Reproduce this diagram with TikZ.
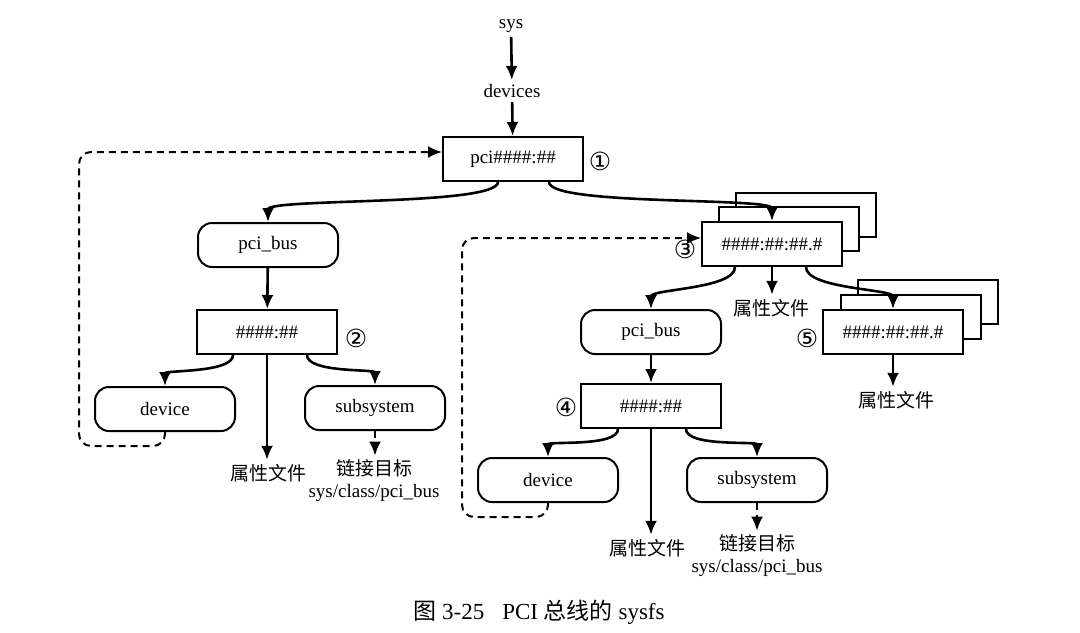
\documentclass[tikz,border=0pt]{standalone}
\usepackage{fontspec}
\setmainfont{Liberation Serif}
\newfontfamily\cjk{Noto Sans CJK SC}
\newfontfamily\circnum{DejaVu Sans}
\usetikzlibrary{arrows.meta}

\begin{document}
\begin{tikzpicture}[x=0.5pt,y=-0.5pt,font=\fontsize{9.5}{11}\selectfont,
    dirbox/.style={draw,line width=1pt,fill=white,minimum width=70pt,minimum height=22pt,inner sep=0pt},
    busbox/.style={dirbox,rounded corners=7pt},
    txt/.style={inner sep=2pt,align=center},
    num/.style={inner sep=0pt,font=\circnum\fontsize{12.5}{13}\selectfont},
    arr/.style={line width=1.3pt,-{Latex[length=7pt,width=6pt]}},
    lnk/.style={arr,line width=1pt,dash pattern=on 3.5pt off 2.5pt}]
    \useasboundingbox (0,0) rectangle (1080,632);

    % top of the tree
    \node[txt] (sys) at (511,26) {sys};
    \node[txt] (devices) at (512,91) {devices};
    \node[dirbox] (pci) at (513,159) {pci\#\#\#\#:\#\#};
    \node[num] (n1) at (600,161) {①};

    % left branch: pci bus
    \node[busbox] (busL) at (268,245) {pci\_bus};
    \node[dirbox] (domL) at (267,332) {\#\#\#\#:\#\#};
    \node[num] (n2) at (356,338) {②};
    \node[busbox] (devL) at (165,409) {device};
    \node[busbox] (subL) at (375,408) {subsystem};
    \node[txt,font=\cjk\fontsize{9.5}{11}\selectfont] (attrL) at (268,473) {属性文件};
    \node[txt] (linkL) at (374,481) {{\cjk 链接目标}\\sys/class/pci\_bus};

    % right branch: device slots (stacked)
    \node[dirbox] (slotC) at (806,215) {};
    \node[dirbox] (slotB) at (789,229) {};
    \node[dirbox] (slot) at (772,244) {\#\#\#\#:\#\#:\#\#.\#};
    \node[num] (n3) at (685,249) {③};
    \node[txt,font=\cjk\fontsize{9.5}{11}\selectfont] (attr3) at (771,308) {属性文件};

    \node[dirbox] (subslotC) at (928,302) {};
    \node[dirbox] (subslotB) at (911,317) {};
    \node[dirbox] (subslot) at (893,332) {\#\#\#\#:\#\#:\#\#.\#};
    \node[num] (n5) at (807,338) {⑤};
    \node[txt,font=\cjk\fontsize{9.5}{11}\selectfont] (attr5) at (896,400) {属性文件};

    \node[busbox] (busR) at (651,332) {pci\_bus};
    \node[dirbox] (domR) at (651,406) {\#\#\#\#:\#\#};
    \node[num] (n4) at (566,407) {④};
    \node[busbox] (devR) at (548,480) {device};
    \node[busbox] (subR) at (757,480) {subsystem};
    \node[txt,font=\cjk\fontsize{9.5}{11}\selectfont] (attrR) at (647,548) {属性文件};
    \node[txt] (linkR) at (757,556) {{\cjk 链接目标}\\sys/class/pci\_bus};

    % caption
    \node[txt,font=\fontsize{11.5}{13}\selectfont] (cap) at (539,612) {{\cjk 图}~3-25\hspace{9pt}PCI~{\cjk 总线的}~sysfs};

    % solid arrows
    \draw[arr] (sys) -- (devices);
    \draw[arr] (devices) -- (pci);
    \draw[arr] ([xshift=-7.5pt]pci.south) .. controls +(0,24) and +(0,-24) .. (busL.north);
    \draw[arr] ([xshift=18pt]pci.south) .. controls +(0,24) and +(0,-24) .. (slot.north);
    \draw[arr] (busL) -- (domL);
    \draw[arr] ([xshift=-17pt]domL.south) .. controls +(0,18) and +(0,-16) .. (devL.north);
    \draw[arr] ([xshift=20pt]domL.south) .. controls +(0,18) and +(0,-16) .. (subL.north);
    \draw[arr] (domL.south) -- (domL.south |- attrL.north);
    \draw[arr] ([xshift=-18.5pt]slot.south) .. controls +(0,22) and +(0,-20) .. (busR.north);
    \draw[arr] (slot.south) -- (slot.south |- attr3.north);
    \draw[arr] ([xshift=17pt]slot.south) .. controls +(0,22) and +(0,-20) .. (subslot.north);
    \draw[arr] (subslot.south) -- (subslot.south |- attr5.north);
    \draw[arr] (busR) -- (domR);
    \draw[arr] ([xshift=-16.5pt]domR.south) .. controls +(0,18) and +(0,-16) .. (devR.north);
    \draw[arr] ([xshift=17.5pt]domR.south) .. controls +(0,18) and +(0,-16) .. (subR.north);
    \draw[arr] (domR.south) -- (domR.south |- attrR.north);

    % symbolic links (dashed)
    \coordinate (lpL) at (79,446);
    \coordinate (ltL) at (79,152);
    \draw[lnk,rounded corners=6pt] (devL.south) |- (lpL) -- (ltL) -- (ltL -| pci.west);
    \draw[lnk] (subL.south) -- (subL.south |- linkL.north);
    \coordinate (lpR) at (462,517);
    \coordinate (ltR) at (462,238);
    \draw[lnk,rounded corners=6pt] (devR.south) |- (lpR) -- (ltR) -- (ltR -| slot.west);
    \draw[lnk] (subR.south) -- (subR.south |- linkR.north);
\end{tikzpicture}
\end{document}
